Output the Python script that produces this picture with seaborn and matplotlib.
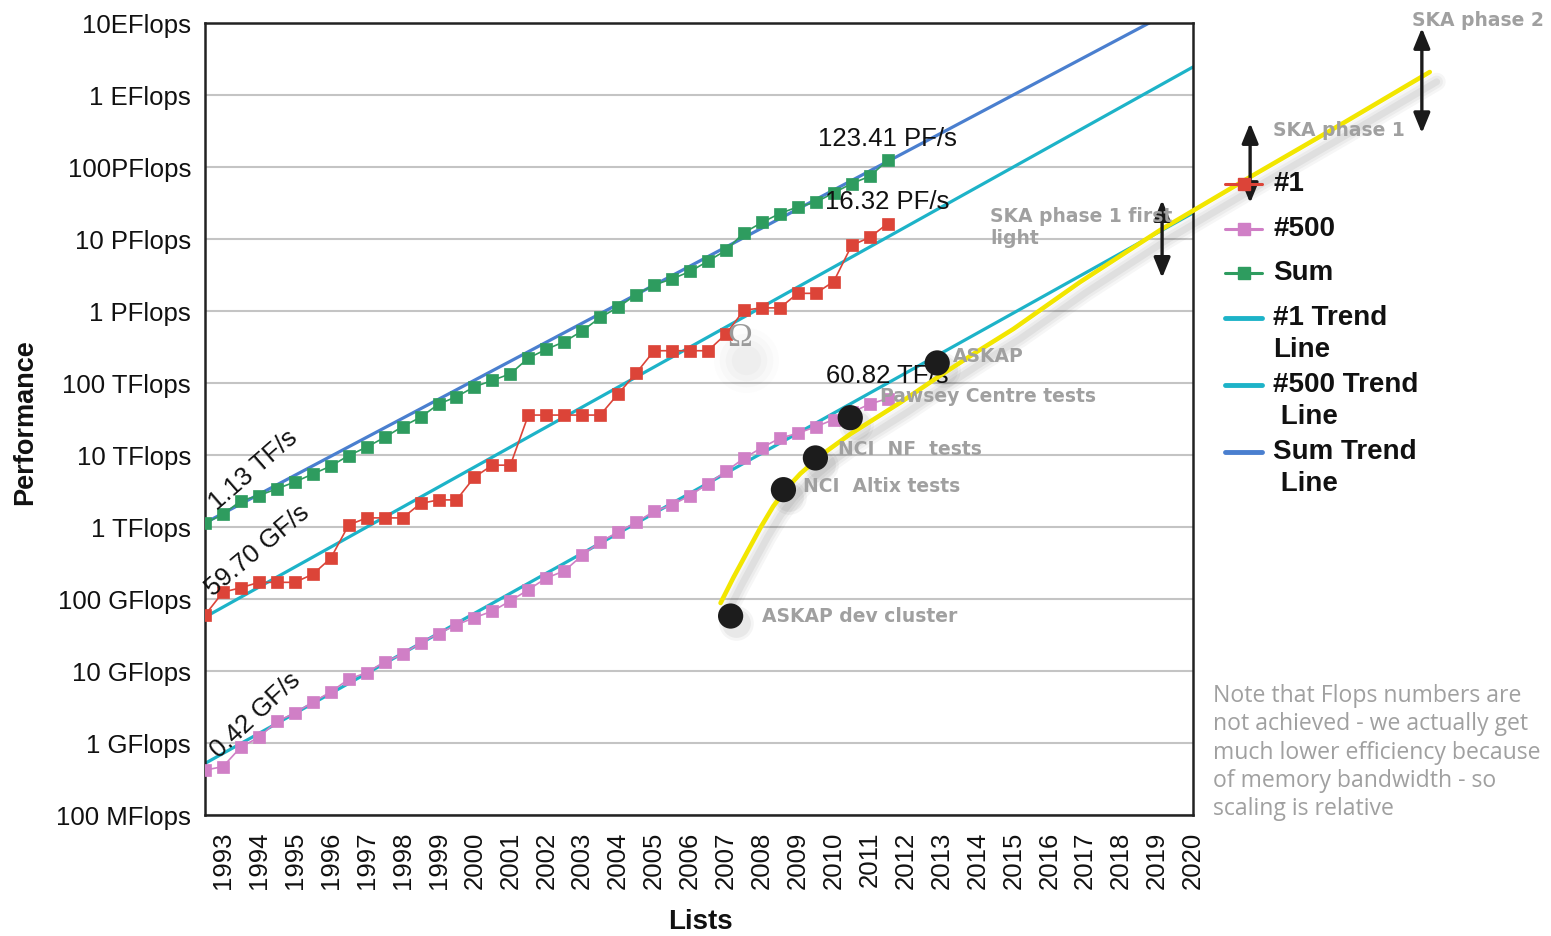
import numpy as np
import matplotlib
matplotlib.use("Agg")
import matplotlib.pyplot as plt
import matplotlib.patheffects as pe
import matplotlib.transforms as mtransforms
from matplotlib.lines import Line2D
import seaborn as sns

# ---------------------------------------------------------------------------
# TOP500 performance development, June 1993 - June 2012 (two lists a year).
# Values are Rmax in GFlop/s.
# ---------------------------------------------------------------------------
list_pos = np.arange(39) * 0.5 + 1992.5

top1_gf = [59.7, 124.5, 143.4, 170.4, 170.4, 170.4, 220.4, 368.2, 1068, 1338,
           1338, 1338, 2121, 2379, 2379, 4938, 7226, 7226, 35860, 35860,
           35860, 35860, 35860, 70720, 136800, 280600, 280600, 280600, 280600, 478200,
           1026000, 1105000, 1105000, 1759000, 1759000, 2566000, 8162000, 10510000, 16324750]

sum_gf = [1128.6, 1493.4, 2317, 2732, 3394, 4217, 5450, 7010, 9830, 12880,
          17560, 24850, 33440, 50840, 64520, 88480, 108600, 134300, 221800, 293800,
          374400, 528000, 813000, 1127000, 1690000, 2300000, 2790000, 3540000, 4920000, 6970000,
          12200000, 16950000, 22600000, 27950000, 32400000, 43660000, 58880000, 74160000, 123410000]

top500_gf = [0.42, 0.47, 0.88, 1.2, 2.0, 2.6, 3.7, 5.1, 7.7, 9.5,
             13.4, 17.1, 24.7, 33.1, 43.8, 55.1, 67.8, 94.3, 134.3, 195.8,
             245.1, 403.4, 624, 850.6, 1166, 1646, 2026, 2737, 4005, 5929,
             9000, 12640, 17100, 20050, 24670, 31120, 39090, 50940, 60820]

# Exponential trend lines (Flop/s at the ends of the axis)
trend_years = [1992.5, 2020.0]
trend_top1 = [5.6e10, 2.45e18]
trend_top500 = [5.2e8, 2.3e16]
trend_sum = [1.14e12, 2.1e19]

# Radio-astronomy computing roadmap (log10 Flop/s)
roadmap_year = [2006.85, 2007.21, 2007.60, 2007.96, 2008.32, 2008.68, 2009.07,
                2009.46, 2009.82, 2010.46, 2011.16, 2011.86, 2012.88, 2013.94,
                2015.00, 2016.86, 2019.09, 2021.59, 2024.09, 2026.59]
roadmap_log = [10.944, 11.300, 11.660, 11.990, 12.290, 12.530, 12.740,
               12.910, 13.060, 13.290, 13.510, 13.730, 14.075, 14.420,
               14.750, 15.403, 16.125, 16.861, 17.583, 18.319]
roadmap_flops = [10 ** v for v in roadmap_log]

systems = ["ASKAP dev cluster", "NCI  Altix tests", "NCI  NF  tests",
           "Pawsey Centre tests", "ASKAP"]
system_year = [2007.13, 2008.60, 2009.49, 2010.46, 2012.88]
system_flops = [5.8e10, 3.3e12, 9.1e12, 3.3e13, 1.9e14]

# SKA milestones: year, lower and upper bound of the arrow (Flop/s)
ska_year = [2019.14, 2021.59, 2026.37]
ska_low = [10 ** 15.46, 10 ** 16.50, 10 ** 17.47]
ska_high = [10 ** 16.54, 10 ** 17.61, 10 ** 18.93]

year_ticks = list(range(1993, 2021))
flops_ticks = [10.0 ** e for e in range(8, 20)]
flops_labels = ["100 MFlops", "1 GFlops", "10 GFlops", "100 GFlops", "1 TFlops",
                "10 TFlops", "100 TFlops", "1 PFlops", "10 PFlops", "100PFlops",
                "1 EFlops", "10EFlops"]

RED = "#dc4438"
PINK = "#d07fc6"
GREEN = "#2e9c5f"
CYAN = "#1db3c8"
BLUE = "#4a7fcf"
YELLOW = "#f2e600"
NOTE = "#a0a0a0"

sns.set_theme(style="white")
plt.rcParams["font.family"] = ["Liberation Sans", "DejaVu Sans"]

W, H = 1551, 936
fig = plt.figure(figsize=(W / 100, H / 100), dpi=100)
ax = fig.add_axes([205 / W, 1 - 815 / H, 988 / W, 792 / H])
ax.set_yscale("log")


def fx(px):
    return px / W


def fy(py):
    return 1 - py / H


# trend lines
for ys, col in [(trend_top1, CYAN), (trend_top500, CYAN), (trend_sum, BLUE)]:
    sns.lineplot(x=trend_years, y=ys, color=col, lw=2.3, ax=ax, zorder=2)

# measured series
for vals, col in [(top1_gf, RED), (top500_gf, PINK), (sum_gf, GREEN)]:
    sns.lineplot(x=list_pos, y=np.array(vals) * 1e9, color=col, lw=1.2,
                 marker="s", markersize=8, markeredgecolor=col,
                 markeredgewidth=0.5, ax=ax, zorder=3)

# value labels at the ends of the series
lab_kw = dict(textcoords="offset pixels", fontsize=18.5, color="#111111",
              ha="center", va="center", zorder=6)
ax.annotate(f"{sum_gf[-1] / 1e6:.2f} PF/s", xy=(list_pos[-1], sum_gf[-1] * 1e9),
            xytext=(0, 21), **lab_kw)
ax.annotate(f"{top1_gf[-1] / 1e6:.2f} PF/s", xy=(list_pos[-1], top1_gf[-1] * 1e9),
            xytext=(0, 22), **lab_kw)
ax.annotate(f"{top500_gf[-1] / 1e3:.2f} TF/s", xy=(list_pos[-1], top500_gf[-1] * 1e9),
            xytext=(0, 23), **lab_kw)
ax.annotate(f"{sum_gf[0] / 1e3:.2f} TF/s", xy=(list_pos[0], sum_gf[0] * 1e9),
            xytext=(48, 53), rotation=41, rotation_mode="anchor", **lab_kw)
ax.annotate(f"{top1_gf[0]:.2f} GF/s", xy=(list_pos[0], top1_gf[0] * 1e9),
            xytext=(52, 64), rotation=40, rotation_mode="anchor", **lab_kw)
ax.annotate(f"{top500_gf[0]:.2f} GF/s", xy=(list_pos[0], top500_gf[0] * 1e9),
            xytext=(51, 55), rotation=43, rotation_mode="anchor", **lab_kw)

# roadmap curve with a soft drop shadow below and to the right
shadow = [pe.SimpleLineShadow(offset=(5, -7), shadow_color="black", alpha=a,
                              linewidth=w)
          for w, a in ((13, 0.035), (9, 0.04), (5, 0.05))]
sns.lineplot(x=roadmap_year, y=roadmap_flops, sort=False, color=YELLOW, lw=3.3,
             clip_on=False, ax=ax, zorder=8, solid_joinstyle="round",
             path_effects=shadow + [pe.Normal()])

# systems on the roadmap
sh_tr = ax.transData + mtransforms.ScaledTranslation(4 / 72, -5 / 72, fig.dpi_scale_trans)
for s, a in ((620, 0.04), (430, 0.05)):
    ax.scatter(system_year, system_flops, s=s, color="black", alpha=a,
               linewidths=0, transform=sh_tr, zorder=7, clip_on=False)
sns.scatterplot(x=system_year, y=system_flops, s=330, color="#1c1c1c",
                edgecolor="none", ax=ax, zorder=9, clip_on=False)

# SKA milestone arrows
for xa, lo, hi in zip(ska_year, ska_low, ska_high):
    ax.annotate("", xy=(xa, hi), xytext=(xa, lo), annotation_clip=False,
                arrowprops=dict(arrowstyle="<|-|>,head_width=0.45,head_length=1.1",
                                color="#1a1a1a", lw=2.4, shrinkA=0, shrinkB=0,
                                mutation_scale=11), zorder=10)

# axes styling
ax.set_xlim(1992.5, 2020.0)
ax.set_ylim(1e8, 1e19)
ax.set_xticks(year_ticks)
ax.set_xticklabels([str(y) for y in year_ticks], rotation=90, fontsize=18.5)
ax.set_yticks(flops_ticks)
ax.set_yticklabels(flops_labels, fontsize=18.5)
ax.yaxis.set_minor_locator(matplotlib.ticker.NullLocator())
ax.tick_params(axis="both", which="major", direction="out", length=6,
               width=1.5, color="#222222", labelcolor="#111111")
ax.tick_params(axis="y", pad=4)
ax.tick_params(axis="x", pad=6)
ax.grid(axis="y", color="#c4c4c4", lw=1.5)
ax.grid(axis="x", visible=False)
for sp in ax.spines.values():
    sp.set_color("#222222")
    sp.set_linewidth(1.8)
ax.set_xlabel("Lists", fontsize=20, fontweight="bold", color="#111111")
ax.set_ylabel("Performance", fontsize=19.5, fontweight="bold", color="#111111")
ax.xaxis.set_label_coords(0.501, -0.135)
ax.xaxis.label.set_va("center")
ax.yaxis.set_label_coords(-0.182, 0.496)
ax.yaxis.label.set_va("center")

# legend
legend_rows = [
    (["#1"], RED, "s", 184),
    (["#500"], PINK, "s", 229),
    (["Sum"], GREEN, "s", 273),
    (["#1 Trend", "Line"], CYAN, None, 318),
    (["#500 Trend", " Line"], CYAN, None, 385),
    (["Sum Trend", " Line"], BLUE, None, 452),
]
for lines, col, mk, ypx in legend_rows:
    if mk:
        fig.add_artist(Line2D([fx(1225), fx(1243.5), fx(1262)], [fy(ypx)] * 3,
                              transform=fig.transFigure, color=col, lw=2.2,
                              marker=mk, markersize=8, markevery=[1], zorder=5))
    else:
        fig.add_artist(Line2D([fx(1225), fx(1262)], [fy(ypx)] * 2,
                              transform=fig.transFigure, color=col, lw=3.5, zorder=5))
    for i, t in enumerate(lines):
        fig.text(fx(1273), fy(ypx + 32 * i), t, fontsize=20, fontweight="bold",
                 color="#111111", va="center", ha="left", zorder=5)

# annotation labels
gray_kw = dict(fontsize=13.5, fontweight="bold", color=NOTE, family="DejaVu Sans",
               va="center", ha="left", zorder=11)
fig.text(fx(1412), fy(20), "SKA phase 2", **gray_kw)
fig.text(fx(1273), fy(130), "SKA phase 1", **gray_kw)
fig.text(fx(990), fy(216), "SKA phase 1 first", **gray_kw)
fig.text(fx(990), fy(238), "light", **gray_kw)
sys_label_px = [(762, 617), (803, 486), (838, 449), (880, 397), (953, 357)]
for name, (lx, ly) in zip(systems, sys_label_px):
    fig.text(fx(lx), fy(ly), name, **gray_kw)

# omega mark with a faint shadow
for s, a in [(2200, 0.012), (1500, 0.015), (900, 0.018), (450, 0.02)]:
    ax.scatter([fx(746)], [fy(360)], s=s, color="black", alpha=a, linewidths=0,
               transform=fig.transFigure, zorder=1, clip_on=False)
fig.text(fx(740), fy(338), "\u03a9", fontsize=24, color="#9a9a9a",
         family="Liberation Serif", ha="center", va="center", zorder=6)

# note
fig.text(fx(1213), fy(684),
         "Note that Flops numbers are\nnot achieved - we actually get\n"
         "much lower efficiency because\nof memory bandwidth - so\nscaling is relative",
         fontsize=16.6, color=NOTE, family="Open Sans", ha="left", va="top",
         linespacing=1.24)

fig.savefig("out.png", dpi=100, facecolor="white")
